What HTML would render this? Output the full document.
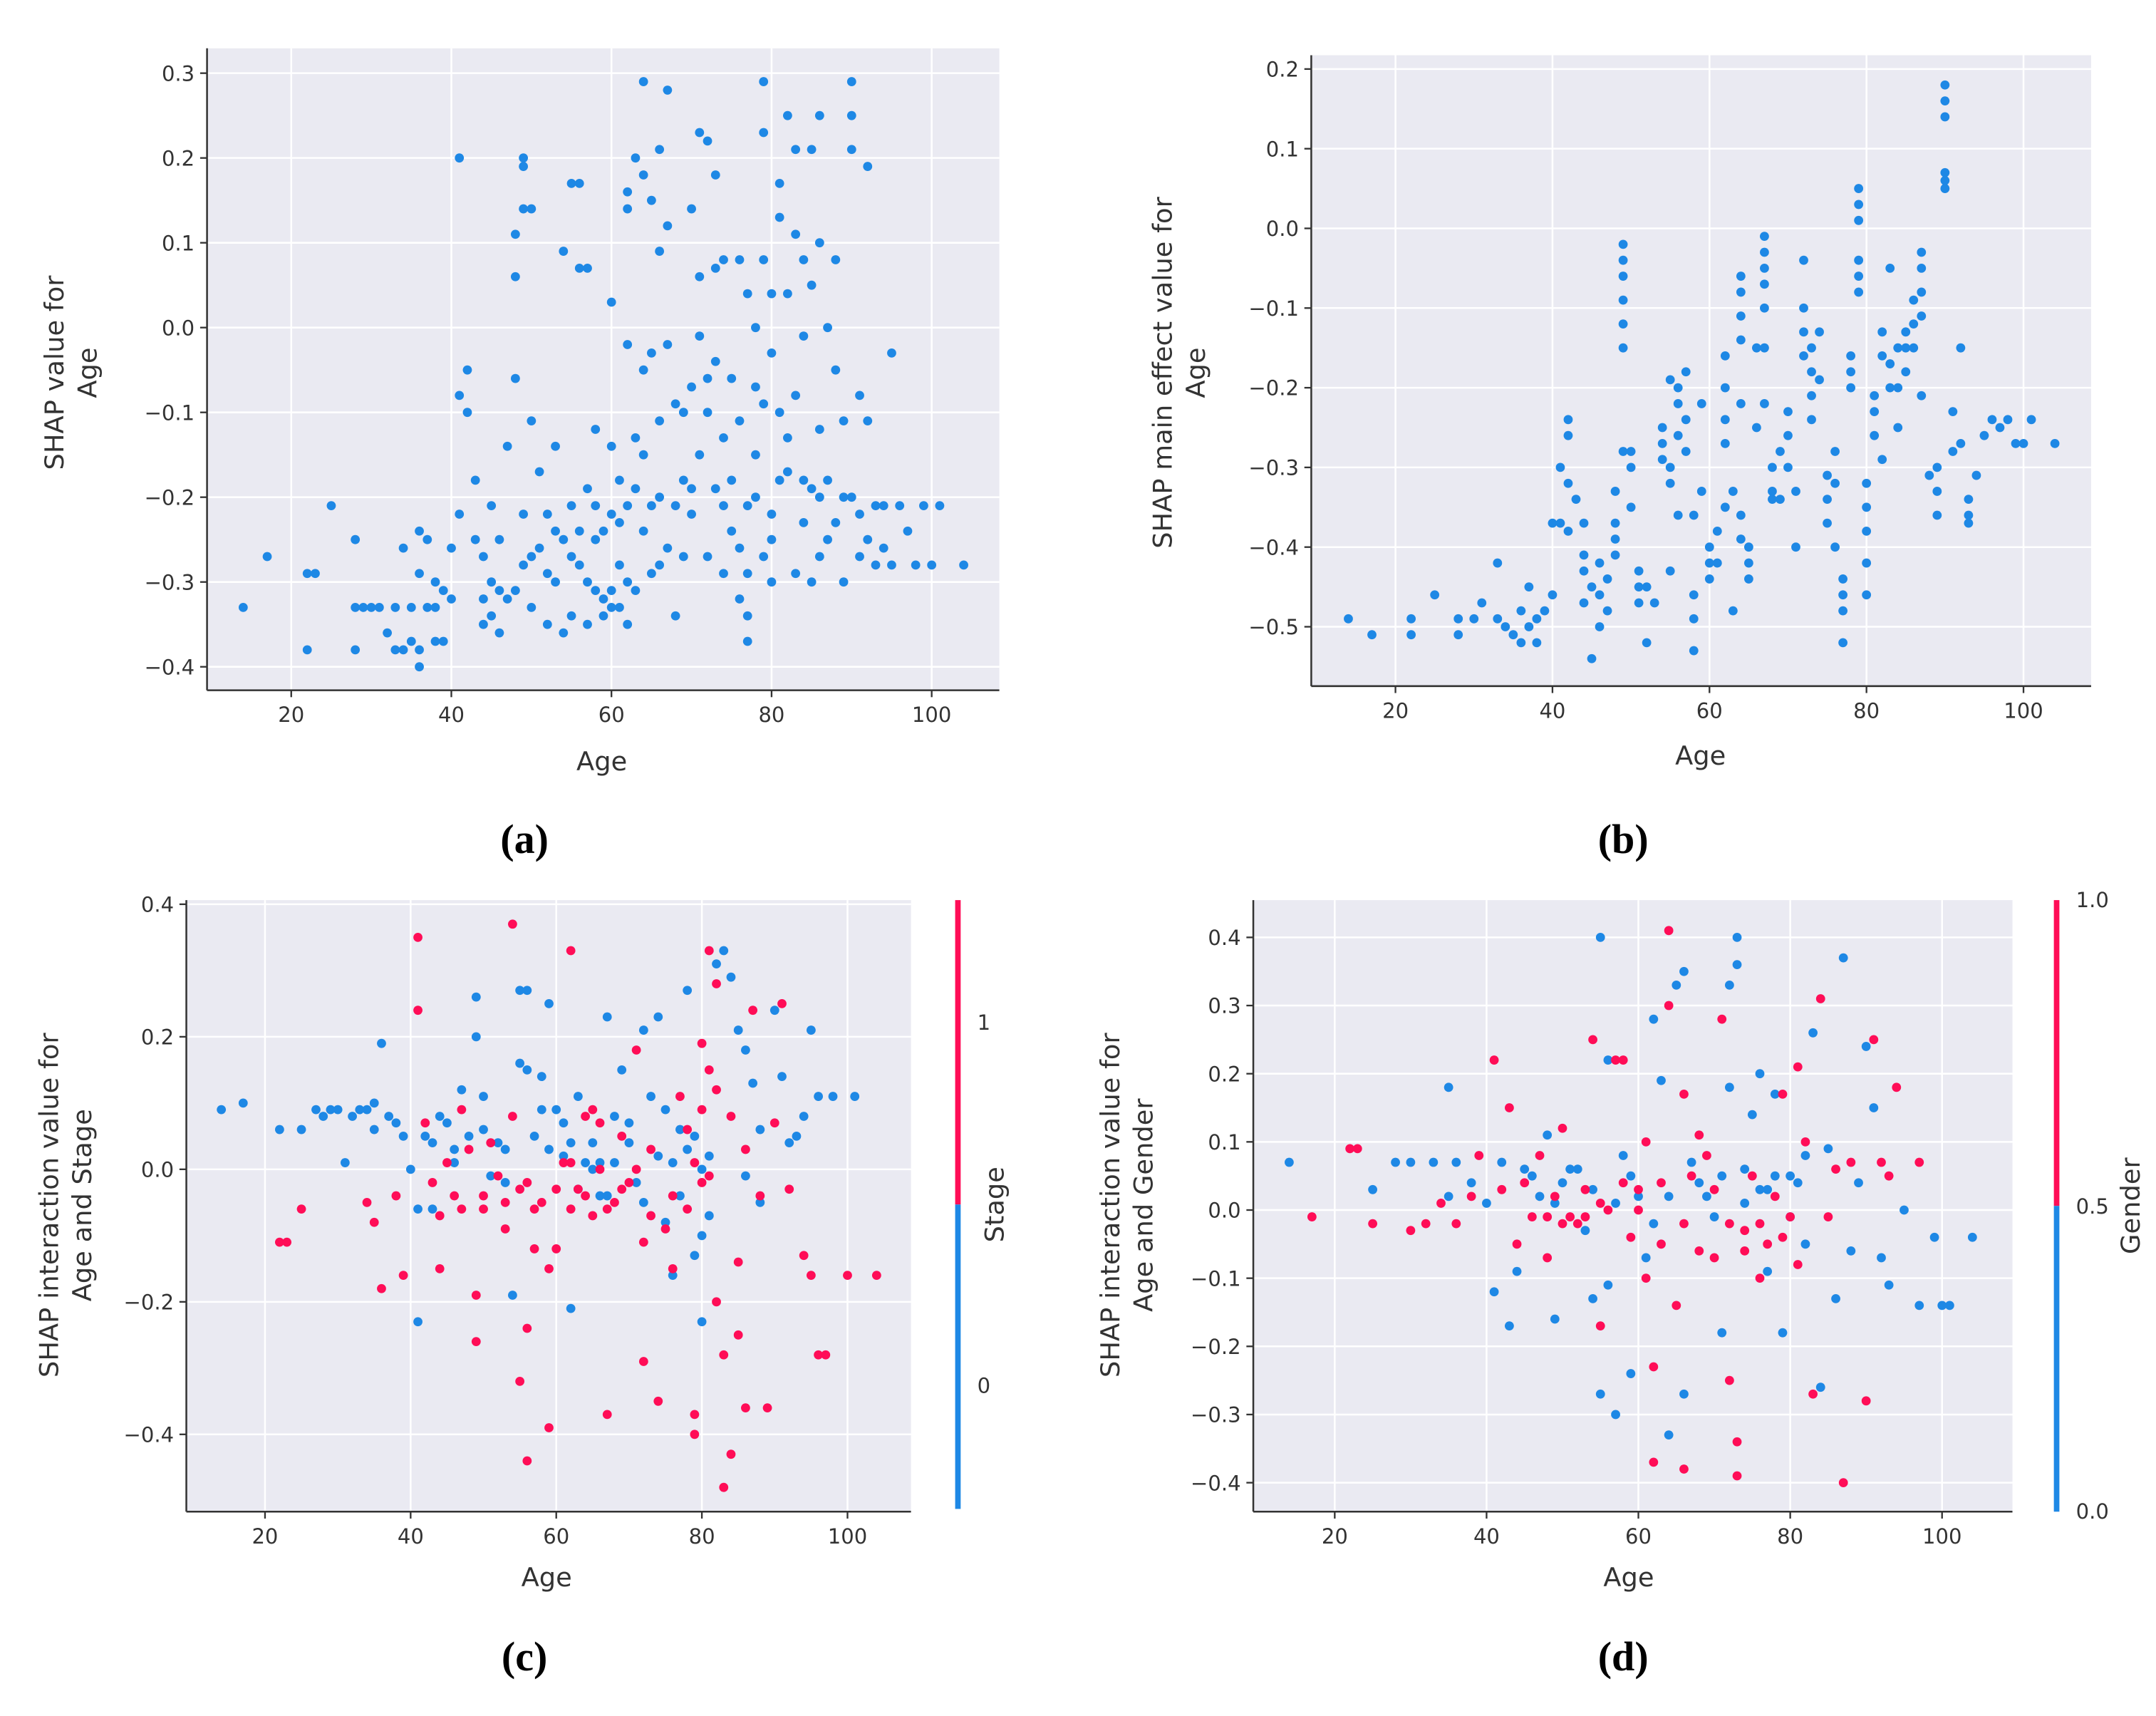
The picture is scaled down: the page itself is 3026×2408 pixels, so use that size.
<!DOCTYPE html>
<html><head><meta charset="utf-8">
<style>
html,body{margin:0;padding:0;background:#fff;}
svg{display:block;}
text{font-family:"DejaVu Sans","Liberation Sans",sans-serif;fill:#333;}
.cap{font-family:"Liberation Serif",serif;font-weight:bold;fill:#000;font-size:30px;}
</style></head>
<body>
<svg id="fig" width="3026" height="2408" viewBox="0 0 1562 1243" preserveAspectRatio="none" xmlns="http://www.w3.org/2000/svg">
<text class="cap" x="380" y="618" text-anchor="middle">(a)</text>
<text class="cap" x="1176" y="618" text-anchor="middle">(b)</text>
<text class="cap" x="380" y="1210" text-anchor="middle">(c)</text>
<text class="cap" x="1176" y="1210" text-anchor="middle">(d)</text>
</svg>
<script>
// ---- data ----
const xTicks = [20,40,60,80,100];
const yTicksA = [0.3,0.2,0.1,0.0,-0.1,-0.2,-0.3,-0.4];
const yTicksB = [0.2,0.1,0.0,-0.1,-0.2,-0.3,-0.4,-0.5];
const yTicksC = [0.4,0.2,0.0,-0.2,-0.4];
const yTicksD = [0.4,0.3,0.2,0.1,0.0,-0.1,-0.2,-0.3,-0.4];
const pointsA = [[14,-0.33],[17,-0.27],[22,-0.38],[22,-0.29],[23,-0.29],[25,-0.21],[28,-0.38],[28,-0.33],[28,-0.25],[29,-0.33],[30,-0.33],[31,-0.33],[32,-0.36],[33,-0.38],[33,-0.33],[34,-0.26],[34,-0.38],[35,-0.37],[35,-0.33],[36,-0.24],[36,-0.29],[36,-0.38],[36,-0.40],[37,-0.25],[37,-0.33],[38,-0.37],[38,-0.33],[38,-0.30],[39,-0.37],[39,-0.31],[40,-0.32],[40,-0.26],[41,-0.22],[41,0.20],[41,-0.08],[42,-0.05],[42,-0.10],[43,-0.18],[43,-0.25],[44,-0.32],[44,-0.27],[45,-0.34],[45,-0.30],[45,-0.21],[46,-0.25],[46,-0.36],[47,-0.32],[47,-0.14],[48,-0.06],[48,0.06],[48,-0.31],[48,0.11],[49,0.20],[49,0.19],[49,0.14],[49,-0.28],[49,-0.22],[50,0.14],[50,-0.11],[50,-0.33],[51,-0.17],[51,-0.26],[52,-0.35],[52,-0.29],[52,-0.22],[53,-0.14],[53,-0.30],[54,0.09],[54,-0.36],[54,-0.25],[55,0.17],[55,-0.21],[55,-0.34],[56,0.17],[56,0.07],[56,-0.24],[56,-0.28],[57,0.07],[57,-0.19],[57,-0.35],[58,-0.12],[58,-0.21],[58,-0.31],[59,-0.32],[59,-0.24],[59,-0.34],[60,0.03],[60,-0.31],[60,-0.22],[60,-0.14],[61,-0.33],[61,-0.28],[61,-0.18],[62,0.16],[62,0.14],[62,-0.02],[62,-0.21],[62,-0.35],[63,0.20],[63,-0.13],[63,-0.31],[64,0.29],[64,0.18],[64,-0.05],[64,-0.24],[65,0.15],[65,-0.03],[65,-0.29],[66,0.21],[66,0.09],[66,-0.11],[66,-0.20],[67,0.28],[67,0.12],[67,-0.02],[67,-0.26],[68,-0.09],[68,-0.34],[69,-0.18],[69,-0.27],[70,0.14],[70,-0.07],[70,-0.22],[71,0.23],[71,0.06],[71,-0.01],[71,-0.15],[72,0.22],[72,-0.10],[72,-0.27],[73,0.18],[73,0.07],[73,-0.04],[73,-0.19],[74,0.08],[74,-0.13],[74,-0.29],[75,-0.06],[75,-0.18],[75,-0.24],[76,0.08],[76,-0.11],[76,-0.32],[77,-0.37],[77,-0.34],[77,-0.21],[77,0.04],[78,0.00],[78,-0.07],[78,-0.15],[79,0.29],[79,0.23],[79,0.08],[79,-0.09],[79,-0.27],[80,0.04],[80,-0.03],[80,-0.22],[80,-0.30],[81,0.17],[81,0.13],[81,-0.10],[81,-0.18],[82,0.25],[82,0.04],[82,-0.17],[83,0.21],[83,0.11],[83,-0.08],[83,-0.29],[84,0.08],[84,-0.01],[84,-0.23],[85,0.21],[85,0.05],[85,-0.19],[85,-0.30],[86,0.25],[86,0.10],[86,-0.12],[86,-0.27],[87,0.00],[87,-0.18],[88,0.08],[88,-0.05],[88,-0.23],[89,-0.30],[89,-0.11],[90,0.29],[90,0.25],[90,0.21],[90,-0.20],[91,-0.08],[91,-0.27],[92,0.19],[92,-0.11],[92,-0.25],[93,-0.28],[93,-0.21],[94,-0.26],[95,-0.03],[95,-0.28],[96,-0.21],[97,-0.24],[98,-0.28],[99,-0.21],[100,-0.28],[101,-0.21],[104,-0.28],
[44,-0.35],[46,-0.31],[50,-0.27],[53,-0.24],[55,-0.27],[57,-0.30],[58,-0.25],[60,-0.33],[61,-0.23],[62,-0.30],[63,-0.19],[64,-0.15],[65,-0.21],[66,-0.28],[68,-0.21],[69,-0.10],[70,-0.19],[72,-0.06],[74,-0.21],[76,-0.26],[77,-0.29],[78,-0.20],[80,-0.25],[82,-0.13],[84,-0.18],[86,-0.20],[87,-0.25],[89,-0.20],[91,-0.22],[94,-0.21]];
const pointsB = [[14,-0.49],[17,-0.51],[22,-0.49],[22,-0.51],[25,-0.46],[28,-0.49],[28,-0.51],[30,-0.49],[31,-0.47],[33,-0.42],[33,-0.49],[34,-0.50],[35,-0.51],[36,-0.48],[36,-0.52],[37,-0.45],[37,-0.50],[38,-0.49],[38,-0.52],[39,-0.48],[40,-0.46],[40,-0.37],[41,-0.37],[41,-0.30],[42,-0.26],[42,-0.24],[42,-0.38],[43,-0.34],[44,-0.37],[44,-0.41],[44,-0.47],[45,-0.54],[45,-0.45],[46,-0.42],[46,-0.50],[47,-0.44],[47,-0.48],[48,-0.33],[48,-0.37],[48,-0.41],[49,-0.02],[49,-0.06],[49,-0.09],[49,-0.15],[49,-0.28],[50,-0.35],[50,-0.30],[51,-0.43],[51,-0.47],[52,-0.52],[52,-0.45],[53,-0.47],[54,-0.25],[54,-0.29],[55,-0.32],[55,-0.43],[55,-0.19],[56,-0.20],[56,-0.26],[56,-0.36],[57,-0.18],[57,-0.28],[58,-0.46],[58,-0.53],[58,-0.36],[59,-0.22],[59,-0.33],[60,-0.40],[60,-0.44],[61,-0.42],[61,-0.38],[62,-0.16],[62,-0.27],[62,-0.35],[63,-0.33],[63,-0.48],[64,-0.06],[64,-0.11],[64,-0.22],[64,-0.39],[65,-0.42],[65,-0.44],[66,-0.15],[66,-0.25],[67,-0.01],[67,-0.05],[67,-0.10],[67,-0.22],[68,-0.33],[68,-0.30],[69,-0.28],[69,-0.34],[70,-0.23],[70,-0.26],[71,-0.33],[71,-0.40],[72,-0.04],[72,-0.10],[72,-0.16],[73,-0.18],[73,-0.21],[74,-0.13],[74,-0.19],[75,-0.31],[75,-0.37],[76,-0.28],[76,-0.40],[77,-0.46],[77,-0.48],[77,-0.52],[78,-0.16],[78,-0.20],[79,0.05],[79,0.01],[79,-0.04],[79,-0.08],[80,-0.32],[80,-0.38],[80,-0.46],[81,-0.21],[81,-0.26],[82,-0.29],[82,-0.13],[83,-0.05],[83,-0.17],[84,-0.15],[84,-0.25],[85,-0.13],[85,-0.18],[86,-0.09],[86,-0.15],[87,-0.03],[87,-0.11],[87,-0.21],[88,-0.31],[89,-0.30],[89,-0.36],[90,0.18],[90,0.14],[90,0.06],[90,0.05],[91,-0.23],[91,-0.28],[92,-0.15],[92,-0.27],[93,-0.37],[93,-0.34],[94,-0.31],[95,-0.26],[96,-0.24],[97,-0.25],[98,-0.24],[99,-0.27],[100,-0.27],[101,-0.24],[104,-0.27],
[42,-0.32],[44,-0.43],[46,-0.46],[48,-0.39],[49,-0.04],[49,-0.12],[50,-0.28],[51,-0.45],[54,-0.27],[55,-0.30],[56,-0.22],[57,-0.24],[58,-0.49],[60,-0.42],[62,-0.20],[62,-0.24],[64,-0.08],[64,-0.14],[64,-0.36],[65,-0.40],[67,-0.03],[67,-0.07],[67,-0.15],[68,-0.34],[70,-0.30],[72,-0.13],[73,-0.15],[73,-0.24],[75,-0.34],[76,-0.32],[77,-0.44],[78,-0.18],[79,0.03],[79,-0.06],[80,-0.35],[80,-0.42],[81,-0.23],[82,-0.16],[83,-0.20],[84,-0.20],[85,-0.15],[86,-0.12],[87,-0.05],[87,-0.08],[89,-0.33],[90,0.16],[90,0.07],[93,-0.36]];
const blueC = [[14,0.09],[17,0.10],[22,0.06],[25,0.06],[27,0.09],[28,0.08],[29,0.09],[30,0.09],[31,0.01],[32,0.08],[33,0.09],[34,0.09],[35,0.06],[35,0.10],[36,0.19],[37,0.08],[38,0.07],[39,0.05],[40,0.00],[41,-0.06],[41,-0.23],[42,0.05],[43,0.04],[44,0.08],[45,0.07],[46,0.03],[47,0.12],[48,0.05],[49,0.26],[49,0.20],[50,0.11],[51,-0.01],[52,0.04],[53,0.03],[54,-0.19],[55,0.27],[55,0.16],[56,0.27],[56,0.15],[57,0.05],[58,0.14],[59,0.03],[59,0.25],[60,0.09],[61,0.07],[62,-0.21],[62,0.04],[63,0.11],[64,0.01],[65,0.04],[66,0.01],[67,0.23],[67,-0.04],[68,0.08],[69,0.15],[70,0.04],[71,-0.02],[72,0.21],[73,0.11],[74,0.23],[75,0.09],[75,-0.08],[76,-0.16],[77,0.06],[78,0.27],[78,0.03],[79,-0.13],[80,-0.23],[80,-0.10],[81,0.02],[82,0.31],[83,0.33],[84,0.29],[85,0.21],[86,0.18],[87,0.13],[88,0.06],[90,0.24],[91,0.14],[92,0.04],[93,0.05],[94,0.08],[95,0.21],[96,0.11],[98,0.11],[101,0.11],
[43,-0.06],[46,0.01],[50,0.06],[53,-0.02],[58,0.09],[61,0.02],[63,-0.03],[65,0.00],[66,-0.04],[68,0.01],[70,0.07],[72,-0.05],[74,0.02],[76,0.01],[77,-0.04],[79,0.05],[80,0.00],[81,-0.07],[86,-0.01],[88,-0.05]];
const redC = [[22,-0.11],[23,-0.11],[25,-0.06],[34,-0.05],[35,-0.08],[36,-0.18],[38,-0.04],[39,-0.16],[41,0.35],[41,0.24],[42,0.07],[43,-0.02],[44,-0.15],[45,0.01],[46,-0.04],[47,0.09],[48,0.03],[49,-0.19],[49,-0.26],[50,-0.06],[51,0.04],[52,-0.01],[53,-0.09],[54,0.37],[54,0.08],[55,-0.32],[55,-0.03],[56,-0.44],[56,-0.24],[57,-0.12],[58,-0.05],[59,-0.39],[59,-0.15],[60,-0.12],[61,0.01],[62,0.33],[62,-0.06],[63,-0.03],[64,0.08],[65,-0.07],[66,0.00],[67,-0.37],[68,-0.05],[69,0.05],[70,-0.02],[71,0.18],[72,-0.29],[72,-0.11],[73,0.03],[74,-0.35],[75,-0.09],[76,-0.15],[77,0.11],[78,-0.06],[79,-0.37],[79,-0.40],[80,0.19],[80,0.09],[81,0.33],[81,-0.01],[82,0.28],[82,-0.20],[83,-0.48],[83,-0.28],[84,-0.43],[84,0.08],[85,-0.25],[85,-0.14],[86,-0.36],[86,0.03],[87,0.24],[88,-0.04],[89,-0.36],[90,0.07],[91,0.25],[92,-0.03],[94,-0.13],[95,-0.16],[96,-0.28],[97,-0.28],[100,-0.16],[104,-0.16],
[44,-0.07],[47,-0.06],[50,-0.04],[53,-0.05],[56,-0.02],[57,-0.06],[60,-0.03],[62,0.01],[64,-0.04],[65,0.09],[66,0.07],[67,-0.06],[69,-0.03],[71,0.00],[73,-0.07],[76,-0.04],[78,0.06],[79,0.01],[80,-0.02],[81,0.15],[82,0.12]];
const blueD = [[14,0.07],[25,0.03],[28,0.07],[30,0.07],[33,0.07],[35,0.18],[35,0.02],[36,0.07],[38,0.04],[40,0.01],[41,-0.12],[42,0.07],[43,-0.17],[44,-0.09],[45,0.06],[47,0.02],[48,0.11],[49,-0.16],[50,0.04],[52,0.06],[53,-0.03],[54,-0.13],[55,0.40],[55,-0.27],[56,-0.11],[56,0.22],[57,-0.30],[58,0.08],[59,-0.24],[60,0.02],[61,-0.07],[62,0.28],[63,0.19],[64,-0.33],[65,0.33],[66,0.35],[66,-0.27],[67,0.07],[68,0.04],[70,-0.01],[71,-0.18],[72,0.33],[72,0.18],[73,0.40],[73,0.36],[74,0.06],[75,0.14],[76,0.20],[76,0.03],[77,-0.09],[78,0.17],[79,-0.18],[80,0.05],[81,0.04],[82,-0.05],[83,0.26],[84,-0.26],[85,0.09],[86,-0.13],[87,0.37],[88,-0.06],[89,0.04],[90,0.24],[91,0.15],[92,-0.07],[93,-0.11],[95,0.00],[97,-0.14],[99,-0.04],[100,-0.14],[101,-0.14],[104,-0.04],
[46,0.05],[49,0.01],[51,0.06],[54,0.03],[57,0.01],[59,0.05],[62,-0.02],[64,0.02],[69,0.02],[71,0.05],[74,0.01],[77,0.03],[78,0.05],[80,-0.01],[82,0.08]];
const redD = [[17,-0.01],[22,0.09],[23,0.09],[25,-0.02],[30,-0.03],[32,-0.02],[34,0.01],[36,-0.02],[38,0.02],[39,0.08],[41,0.22],[42,0.03],[43,0.15],[44,-0.05],[45,0.04],[46,-0.01],[47,0.08],[48,-0.07],[49,0.02],[50,0.12],[51,-0.01],[52,-0.02],[53,0.03],[54,0.25],[55,-0.17],[56,0.00],[57,0.22],[58,0.22],[59,-0.04],[60,0.03],[61,0.10],[62,-0.37],[62,-0.23],[63,0.04],[64,0.41],[64,0.30],[65,-0.14],[66,-0.38],[66,0.17],[67,0.05],[68,-0.06],[69,0.08],[70,0.03],[71,0.28],[72,-0.25],[73,-0.39],[73,-0.34],[74,-0.03],[75,0.05],[76,-0.02],[77,-0.05],[78,0.02],[79,0.17],[80,-0.01],[81,0.21],[82,0.10],[83,-0.27],[84,0.31],[85,-0.01],[86,0.06],[87,-0.40],[88,0.07],[90,-0.28],[91,0.25],[92,0.07],[93,0.05],[94,0.18],[97,0.07],
[48,-0.01],[50,-0.02],[53,-0.01],[55,0.01],[58,0.04],[60,0.00],[61,-0.10],[63,-0.05],[66,-0.02],[68,0.11],[70,-0.07],[72,-0.02],[74,-0.06],[76,-0.10],[79,-0.04],[81,-0.08]];

const BLUE = '#1E88E5', RED = '#FF0D57';
const svg = document.getElementById('fig');
const NS = 'http://www.w3.org/2000/svg';
function mk(tag, attrs, parent){
  const e = document.createElementNS(NS, tag);
  for (const k in attrs) e.setAttribute(k, attrs[k]);
  (parent||svg).appendChild(e);
  return e;
}
function fmt(v, dec){ const s = v.toFixed(dec); return (v < 0 ? '\u2212' + s.slice(1) : s); }

function panel(p){
  const g = mk('g', {});
  
  
  const sx = v => p.x20 + (v - 20) * (p.x100 - p.x20) / 80;
  const sy = v => p.yTop + (v - p.vTop) * (p.yBot - p.yTop) / (p.vBot - p.vTop);
  const bg = mk('rect', {x:p.L, y:p.T, width:p.R-p.L, height:p.B-p.T, fill:'#eaeaf2'}, g);
  
  
  xTicks.forEach(t => {
    const x = sx(t);
    mk('line', {x1:x, x2:x, y1:p.T, y2:p.B, stroke:'#fff', 'stroke-width':1.3}, g);
    mk('line', {x1:x, x2:x, y1:p.B, y2:p.B+5, stroke:'#333', 'stroke-width':1.2}, g);
    const tl = mk('text', {x:x, y:p.B+23, 'text-anchor':'middle', 'font-size':15}, g);
    tl.textContent = t;
    
    
  });
  p.yTicks.forEach(t => {
    const y = sy(t);
    mk('line', {x1:p.L, x2:p.R, y1:y, y2:y, stroke:'#fff', 'stroke-width':1.3}, g);
    mk('line', {x1:p.L-5, x2:p.L, y1:y, y2:y, stroke:'#333', 'stroke-width':1.2}, g);
    const tl = mk('text', {x:p.L-9, y:y+5.5, 'text-anchor':'end', 'font-size':15}, g);
    tl.textContent = fmt(t, 1);
    
    
  });
  mk('line', {x1:p.L, x2:p.L, y1:p.T, y2:p.B, stroke:'#333', 'stroke-width':1.3}, g);
  mk('line', {x1:p.L, x2:p.R, y1:p.B, y2:p.B, stroke:'#333', 'stroke-width':1.3}, g);
  p.series.forEach(s => {
    s.pts.forEach(d => {
      const c = mk('circle', {cx:sx(d[0]), cy:sy(d[1]), r:3.3, fill:s.color}, g);
      
      
    });
  });
  const xl = mk('text', {x:p.xlx, y:p.xly, 'text-anchor':'middle', 'font-size':19}, g);
  xl.textContent = 'Age';
  
  
  const yl = mk('text', {transform:'translate('+p.ylx+','+p.yly+') rotate(-90)', 'text-anchor':'middle', 'font-size':19}, g);
  
  
  p.ylab.forEach((line, i) => {
    const ts = mk('tspan', {x:0, dy: i === 0 ? 0 : 24}, yl);
    ts.textContent = line;
  });
  if (p.cbar){
    const c = p.cbar;
    const mid = (c.T + c.B) / 2;
    mk('rect', {x:c.x, y:c.T, width:4, height:mid-c.T, fill:RED}, g);
    mk('rect', {x:c.x, y:mid, width:4, height:c.B-mid, fill:BLUE}, g);
    c.labels.forEach(l => {
      const t = mk('text', {x:c.x+16, y:l[1]+5, 'font-size':15}, g);
      t.textContent = l[0];
      
      
    });
    const ct = mk('text', {transform:'translate('+c.tx+','+mid+') rotate(-90)', 'text-anchor':'middle', 'font-size':19}, g);
    ct.textContent = c.title;
    
    
  }
}

panel({name:'panel-a', L:150, R:724, T:35, B:500, x20:211, x100:675, yTop:53, vTop:0.3, yBot:483, vBot:-0.4,
  yTicks:yTicksA, series:[{pts:pointsA, color:BLUE}], xlx:436, xly:558, ylx:46, yly:270, ylab:['SHAP value for','Age']});
panel({name:'panel-b', L:950, R:1515, T:40, B:497, x20:1011, x100:1466, yTop:50, vTop:0.2, yBot:454, vBot:-0.5,
  yTicks:yTicksB, series:[{pts:pointsB, color:BLUE}], xlx:1232, xly:554, ylx:849, yly:270, ylab:['SHAP main effect value for','Age']});
panel({name:'panel-c', L:135, R:660, T:652, B:1095, x20:192, x100:614, yTop:655, vTop:0.4, yBot:1039, vBot:-0.4,
  yTicks:yTicksC, series:[{pts:blueC, color:BLUE},{pts:redC, color:RED}], xlx:396, xly:1149, ylx:42, yly:873,
  ylab:['SHAP interaction value for','Age and Stage'],
  cbar:{x:692, T:652, B:1093, labels:[['1',741],['0',1004]], tx:727, title:'Stage'}});
panel({name:'panel-d', L:908, R:1458, T:652, B:1095, x20:967, x100:1407, yTop:679, vTop:0.4, yBot:1074, vBot:-0.4,
  yTicks:yTicksD, series:[{pts:blueD, color:BLUE},{pts:redD, color:RED}], xlx:1180, xly:1149, ylx:811, yly:873,
  ylab:['SHAP interaction value for','Age and Gender'],
  cbar:{x:1488, T:652, B:1095, labels:[['1.0',652],['0.5',874],['0.0',1095]], tx:1550, title:'Gender'}});
</script>
</body></html>
